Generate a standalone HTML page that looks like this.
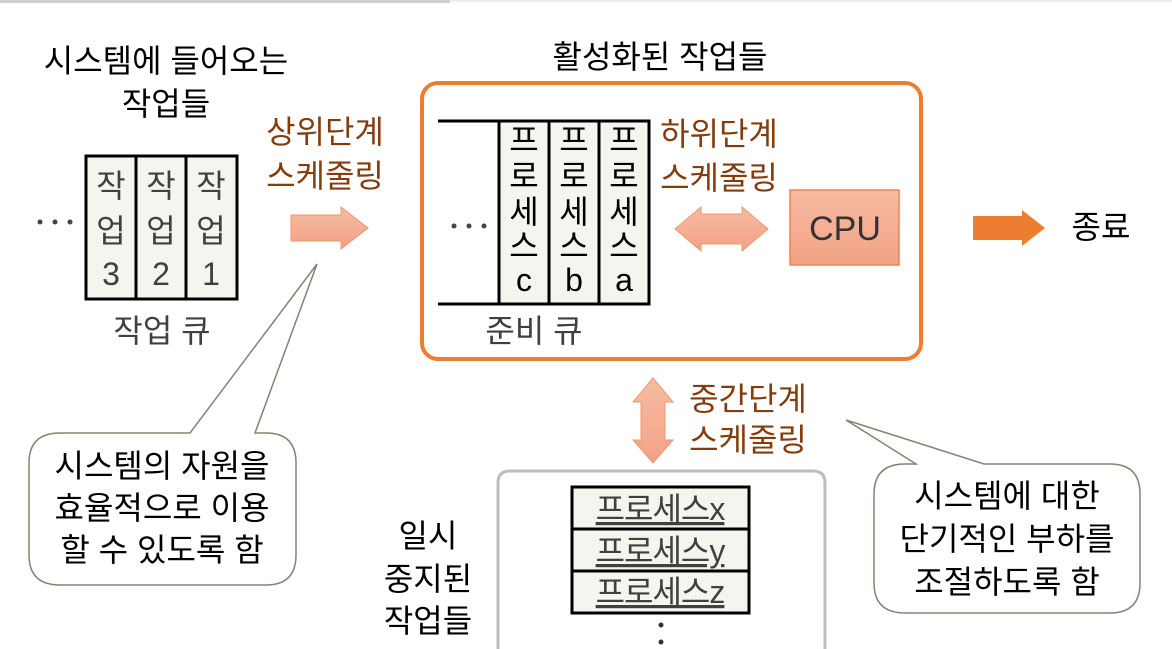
<!DOCTYPE html>
<html><head><meta charset="utf-8"><style>
html,body{margin:0;padding:0;background:#fff;}
svg{display:block;}
text{font-family:"Liberation Sans","Noto Sans CJK KR",sans-serif;}
.k{font-size:32px;fill:#000;}
.b{font-size:32px;fill:#843c0c;}
.g{font-size:32px;fill:#404040;}
</style></head><body>
<svg width="1172" height="649" viewBox="0 0 1172 649" xmlns="http://www.w3.org/2000/svg">
<defs>
<linearGradient id="sg" x1="0" y1="0" x2="0" y2="1"><stop offset="0" stop-color="#f6bca3"/><stop offset="1" stop-color="#f2a284"/></linearGradient>
</defs>
<rect x="0" y="0" width="450" height="3" fill="#d0d0d0"/>
<rect x="450" y="0" width="722" height="2" fill="#eee"/>

<text class="k" x="166" y="72" text-anchor="middle">시스템에 들어오는</text>
<text class="k" x="166" y="115" text-anchor="middle">작업들</text>
<circle cx="40" cy="222" r="2.5" fill="#444"/><circle cx="55" cy="222" r="2.5" fill="#444"/><circle cx="70" cy="222" r="2.5" fill="#444"/>
<rect x="86" y="156" width="151" height="143" fill="#f3f5ee" stroke="#000" stroke-width="3"/>
<line x1="136" y1="156" x2="136" y2="299" stroke="#000" stroke-width="3"/>
<line x1="186" y1="156" x2="186" y2="299" stroke="#000" stroke-width="3"/>
<g text-anchor="middle">
<text class="g" x="111" y="197">작</text><text class="g" x="111" y="242">업</text><text class="g" x="111" y="285">3</text>
<text class="g" x="161" y="197">작</text><text class="g" x="161" y="242">업</text><text class="g" x="161" y="285">2</text>
<text class="g" x="211" y="197">작</text><text class="g" x="211" y="242">업</text><text class="g" x="211" y="285">1</text>
</g>
<text class="g" x="162" y="342" text-anchor="middle">작업 큐</text>

<text class="b" x="325" y="143" text-anchor="middle">상위단계</text>
<text class="b" x="325" y="187" text-anchor="middle">스케줄링</text>
<polygon points="291,215 341,215 341,207 368,228 341,249 341,241 291,241" fill="url(#sg)" stroke="#ec9770" stroke-width="1"/>

<text class="k" x="660" y="68" text-anchor="middle">활성화된 작업들</text>
<rect x="422" y="83" width="499" height="276" rx="16" fill="none" stroke="#ed7d31" stroke-width="4"/>
<line x1="438" y1="121" x2="650" y2="121" stroke="#000" stroke-width="3"/>
<line x1="438" y1="304" x2="650" y2="304" stroke="#000" stroke-width="3"/>
<rect x="499" y="121" width="150" height="183" fill="#f3f5ee" stroke="#000" stroke-width="3"/>
<line x1="549" y1="121" x2="549" y2="304" stroke="#000" stroke-width="3"/>
<line x1="599" y1="121" x2="599" y2="304" stroke="#000" stroke-width="3"/>
<circle cx="454" cy="226" r="2.5" fill="#444"/><circle cx="469" cy="226" r="2.5" fill="#444"/><circle cx="484" cy="226" r="2.5" fill="#444"/>
<g text-anchor="middle">
<text class="k" x="524" y="151">프</text><text class="k" x="524" y="187">로</text><text class="k" x="524" y="223">세</text><text class="k" x="524" y="257">스</text><text class="k" x="524" y="291">c</text>
<text class="k" x="574" y="151">프</text><text class="k" x="574" y="187">로</text><text class="k" x="574" y="223">세</text><text class="k" x="574" y="257">스</text><text class="k" x="574" y="291">b</text>
<text class="k" x="624" y="151">프</text><text class="k" x="624" y="187">로</text><text class="k" x="624" y="223">세</text><text class="k" x="624" y="257">스</text><text class="k" x="624" y="291">a</text>
</g>
<text class="g" x="534" y="342" text-anchor="middle">준비 큐</text>
<text class="b" x="719" y="145" text-anchor="middle">하위단계</text>
<text class="b" x="719" y="189" text-anchor="middle">스케줄링</text>
<polygon points="675,229 701,207 701,214 742,214 742,207 768,229 742,251 742,244 701,244 701,251" fill="url(#sg)" stroke="#ec9770" stroke-width="1"/>
<rect x="790" y="190" width="109" height="75" fill="url(#sg)" stroke="#e8845c" stroke-width="1.5"/>
<text x="845" y="240" font-size="34" fill="#333" text-anchor="middle">CPU</text>

<polygon points="973,216 1022,216 1022,210 1045,228 1022,246 1022,240 973,240" fill="#ed7d31"/>
<text class="k" x="1101" y="238" text-anchor="middle">종료</text>

<polygon points="653,378 673,402 665,402 665,440 673,440 653,463 633,440 641,440 641,402 633,402" fill="url(#sg)" stroke="#ec9770" stroke-width="1"/>
<text class="b" x="748" y="410" text-anchor="middle">중간단계</text>
<text class="b" x="748" y="451" text-anchor="middle">스케줄링</text>
<path d="M498,660 L498,483 Q498,471 510,471 L813,471 Q825,471 825,483 L825,660" fill="none" stroke="#bdbdbd" stroke-width="3"/>
<rect x="572" y="487" width="177" height="126" fill="#f3f5ee" stroke="#000" stroke-width="3"/>
<line x1="572" y1="529" x2="749" y2="529" stroke="#000" stroke-width="3"/>
<line x1="572" y1="571" x2="749" y2="571" stroke="#000" stroke-width="3"/>
<g text-anchor="middle">
<text class="g" x="660" y="520" text-decoration="underline" letter-spacing="-1">프로세스x</text>
<text class="g" x="660" y="562" text-decoration="underline" letter-spacing="-1">프로세스y</text>
<text class="g" x="660" y="603" text-decoration="underline" letter-spacing="-1">프로세스z</text>
</g>
<circle cx="661" cy="625" r="2.5" fill="#333"/><circle cx="661" cy="642" r="2.5" fill="#333"/>
<g text-anchor="middle">
<text class="k" x="428" y="547">일시</text>
<text class="k" x="428" y="590">중지된</text>
<text class="k" x="428" y="632">작업들</text>
</g>

<path d="M60,433 L190,433 L317,264 L255,433 L266,433 Q296,433 296,463 L296,555 Q296,585 266,585 L60,585 Q29,585 29,555 L29,463 Q29,433 60,433 Z" fill="#fff" stroke="#8a8070" stroke-width="1.5"/>
<g text-anchor="middle">
<text class="k" x="162" y="477">시스템의 자원을</text>
<text class="k" x="162" y="519">효율적으로 이용</text>
<text class="k" x="162" y="561">할 수 있도록 함</text>
</g>
<path d="M905,464 L916,464 L846,420 L984,464 L1110,464 Q1140,464 1140,494 L1140,583 Q1140,613 1110,613 L905,613 Q874,613 874,583 L874,494 Q874,464 905,464 Z" fill="#fff" stroke="#8a8070" stroke-width="1.5"/>
<g text-anchor="middle">
<text class="k" x="1007" y="507">시스템에 대한</text>
<text class="k" x="1007" y="550">단기적인 부하를</text>
<text class="k" x="1007" y="593">조절하도록 함</text>
</g>
</svg>
</body></html>
